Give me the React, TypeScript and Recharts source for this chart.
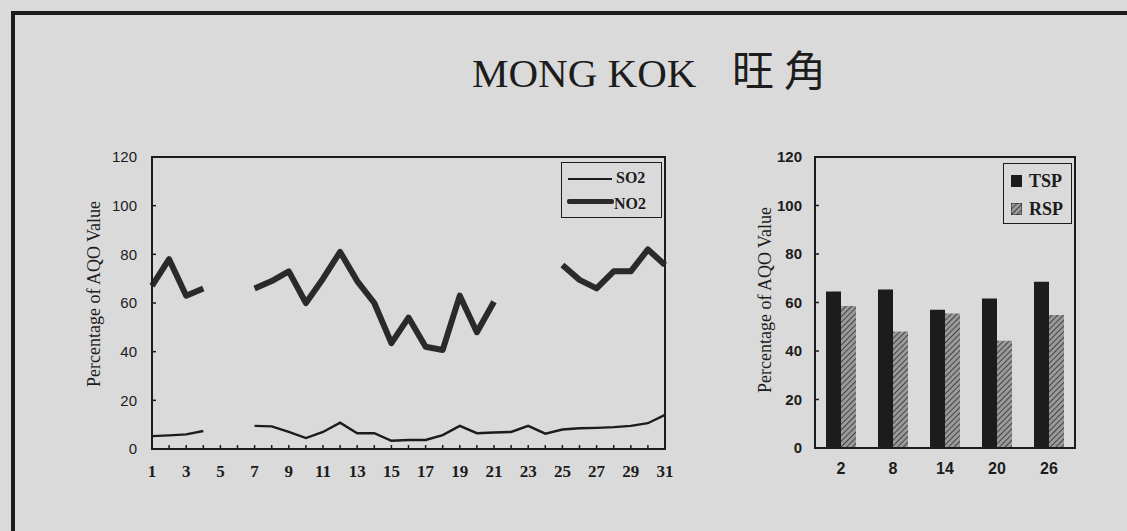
import { Bar, BarChart, Legend, Line, LineChart, ReferenceArea, XAxis, YAxis } from 'recharts';

// left panel: daily percentage of AQO value
const days = [1, 2, 3, 4, 5, 6, 7, 8, 9, 10, 11, 12, 13, 14, 15, 16, 17, 18, 19, 20, 21, 22, 23, 24, 25, 26, 27, 28, 29, 30, 31];
const so2 = [5.3, 5.6, 6, 7.4, null, null, 9.5, 9.3, 7, 4.5, 7, 10.8, 6.5, 6.5, 3.4, 3.7, 3.7, 5.7, 9.5, 6.5, 6.8, 7, 9.5, 6.3, 8, 8.5, 8.7, 9, 9.5, 10.6, 14];
const no2 = [67, 78, 63, 66, null, null, 66, 69, 73, 60, 70, 81, 69, 60, 43.5, 54, 42, 40.7, 63, 48, 60.5, null, null, null, 75.6, 69.5, 66, 73, 73, 82, 75.6];
const yTicks = [0, 20, 40, 60, 80, 100, 120];

// right panel: sampling days
const sampleDays = ['2', '8', '14', '20', '26'];
const tsp = [64.5, 65.4, 57, 61.7, 68.6];
const rsp = [58.6, 48, 55.5, 44.2, 54.8];

const lineData = days.map((d, i) => ({ day: d, SO2: so2[i], NO2: no2[i] }));
const barData = sampleDays.map((d, i) => ({ day: d, TSP: tsp[i], RSP: rsp[i] }));

const INK = '#1c1c1c';
const PAPER = '#dadada';
const SERIF = '"Liberation Serif", "Times New Roman", serif';
const SANS = '"Liberation Sans", Arial, sans-serif';

function LineLegend() {
  return (
    <div style={{ width: 99, height: 54, border: `1.5px solid ${INK}`, position: 'relative', fontFamily: SERIF, fontWeight: 700, fontSize: 16, color: INK }}>
      <div style={{ position: 'absolute', left: 6, top: 15, width: 44, height: 2, background: INK }} />
      <div style={{ position: 'absolute', left: 54, top: 6, lineHeight: '18px' }}>SO2</div>
      <div style={{ position: 'absolute', left: 5, top: 36, width: 47, height: 5, background: '#2a2a2a', borderRadius: 2 }} />
      <div style={{ position: 'absolute', left: 52, top: 32, lineHeight: '18px' }}>NO2</div>
    </div>
  );
}

function BarLegend() {
  return (
    <div style={{ width: 67, height: 59, border: `1.5px solid ${INK}`, position: 'relative', fontFamily: SERIF, fontWeight: 700, fontSize: 18, color: INK }}>
      <div style={{ position: 'absolute', left: 7, top: 11, width: 11, height: 12, background: INK }} />
      <div style={{ position: 'absolute', left: 25, top: 7, lineHeight: '20px' }}>TSP</div>
      <svg style={{ position: 'absolute', left: 7, top: 39 }} width={11} height={12}>
        <rect width={11} height={12} fill="url(#hatch)" stroke={INK} strokeWidth={1} />
      </svg>
      <div style={{ position: 'absolute', left: 25, top: 35, lineHeight: '20px' }}>RSP</div>
    </div>
  );
}

export default function App() {
  return (
    <div style={{ position: 'absolute', left: 0, top: 0, width: 1127, height: 531, background: PAPER, overflow: 'hidden' }}>
      {/* scanned page frame */}
      <div style={{ position: 'absolute', left: 11, top: 11, width: 1127, height: 531, borderTop: `4px solid ${INK}`, borderLeft: `4px solid ${INK}` }} />

      <svg width={1127} height={531} style={{ position: 'absolute', left: 0, top: 0 }}>
        <defs>
          <pattern id="hatch" width={4} height={4} patternUnits="userSpaceOnUse" patternTransform="rotate(45)">
            <rect width={4} height={4} fill="#9a9a9a" />
            <line x1={0} y1={0} x2={0} y2={4} stroke="#2e2e2e" strokeWidth={1.6} />
          </pattern>
        </defs>
        <text x={472} y={87} fontFamily={SERIF} fontSize={41} fill={INK}>MONG KOK</text>
        <text x={732} y={86} fontFamily='"Noto Sans CJK TC", sans-serif' fontSize={42} fill={INK} letterSpacing={10}>旺角</text>
        <text transform="translate(94,294) rotate(-90)" textAnchor="middle" dominantBaseline="central" fontFamily={SERIF} fontSize={18} fill={INK}>
          Percentage of AQO Value
        </text>
        <text transform="translate(765,300) rotate(-90)" textAnchor="middle" dominantBaseline="central" fontFamily={SERIF} fontSize={18} fill={INK}>
          Percentage of AQO Value
        </text>
      </svg>

      <div style={{ position: 'absolute', left: 70, top: 140 }}>
        <LineChart width={620} height={360} data={lineData} margin={{ top: 17, right: 25, bottom: 0, left: 22 }}>
          <ReferenceArea x1={1} x2={31} y1={0} y2={120} fill="none" stroke={INK} strokeWidth={2} />
          <XAxis
            dataKey="day"
            type="number"
            domain={[1, 31]}
            ticks={days}
            interval={0}
            tickFormatter={(v: number) => (v % 2 === 1 ? String(v) : '')}
            height={51}
            tickSize={-4}
            tickMargin={20}
            axisLine={{ stroke: INK, strokeWidth: 2 }}
            tickLine={{ stroke: INK, strokeWidth: 1.5 }}
            tick={{ fill: INK, fontFamily: SERIF, fontWeight: 700, fontSize: 17 }}
          />
          <YAxis
            domain={[0, 120]}
            ticks={yTicks}
            width={60}
            tickSize={-4}
            tickMargin={19}
            axisLine={{ stroke: INK, strokeWidth: 2 }}
            tickLine={{ stroke: INK, strokeWidth: 1.5 }}
            tick={{ fill: INK, fontFamily: SANS, fontSize: 15 }}
          />
          <Line dataKey="SO2" stroke={INK} strokeWidth={2.4} dot={false} connectNulls={false} isAnimationActive={false} />
          <Line dataKey="NO2" stroke="#2a2a2a" strokeWidth={6} strokeLinejoin="round" dot={false} connectNulls={false} isAnimationActive={false} />
          <Legend verticalAlign="middle" align="center" content={<LineLegend />} wrapperStyle={{ left: 491, top: 22, width: 'auto', height: 'auto' }} />
        </LineChart>
      </div>

      <div style={{ position: 'absolute', left: 740, top: 140 }}>
        <BarChart width={360} height={360} data={barData} margin={{ top: 17, right: 25, bottom: 0, left: 35 }} barSize={15} barGap={0}>
          <ReferenceArea x1="2" x2="26" y1={0} y2={120} fill="none" stroke={INK} strokeWidth={2} />
          <XAxis
            dataKey="day"
            height={52}
            tickSize={-4}
            tickMargin={19}
            tickLine={false}
            axisLine={{ stroke: INK, strokeWidth: 2 }}
            tick={{ fill: INK, fontFamily: SANS, fontWeight: 700, fontSize: 16 }}
          />
          <YAxis
            domain={[0, 120]}
            ticks={yTicks}
            width={40}
            tickSize={-4}
            tickMargin={17}
            axisLine={{ stroke: INK, strokeWidth: 2 }}
            tickLine={{ stroke: INK, strokeWidth: 1.5 }}
            tick={{ fill: INK, fontFamily: SANS, fontWeight: 700, fontSize: 15 }}
          />
          <Bar dataKey="TSP" fill={INK} isAnimationActive={false} />
          <Bar dataKey="RSP" fill="url(#hatch)" isAnimationActive={false} />
          <Legend verticalAlign="middle" align="center" content={<BarLegend />} wrapperStyle={{ left: 263, top: 23, width: 'auto', height: 'auto' }} />
        </BarChart>
      </div>
    </div>
  );
}
